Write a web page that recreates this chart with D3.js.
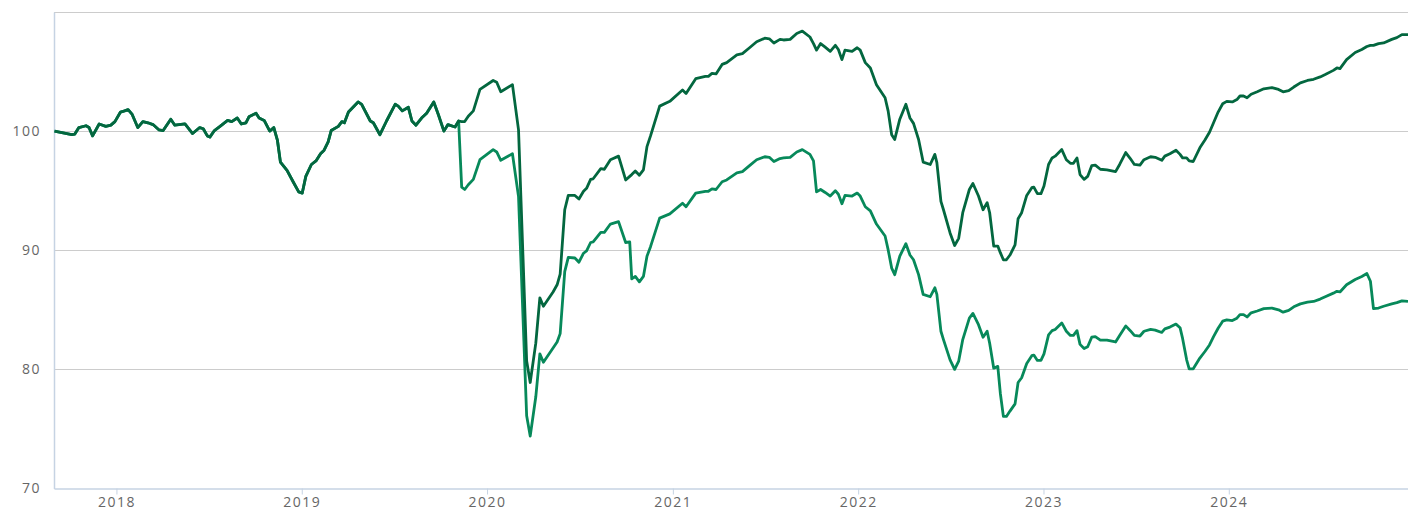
<!DOCTYPE html>
<html>
<head>
<meta charset="utf-8">
<script src="https://cdn.jsdelivr.net/npm/d3@7"></script>
<style>
    html, body { margin: 0; padding: 0; background: #fff; }
    svg { display: block; font-family: "Open Sans", sans-serif; }
</style>
</head>
<body>
<div id="chart"></div>
<script>
// Dates of the sampled points (weekly-ish, picked at the turns of the lines)
const dates = [
    // 2017
    "2017-09-01", "2017-10-05", "2017-10-11", "2017-10-19", "2017-11-02", "2017-11-08", "2017-11-15", "2017-11-28", "2017-12-11", "2017-12-21", "2017-12-29",
    // 2018
    "2018-01-09", "2018-01-17", "2018-01-24", "2018-02-01", "2018-02-12", "2018-02-22", "2018-03-04", "2018-03-14", "2018-03-26", "2018-04-03",
    "2018-04-18", "2018-04-26", "2018-05-16", "2018-05-31", "2018-06-14", "2018-06-21", "2018-06-29", "2018-07-04", "2018-07-13", "2018-07-24",
    "2018-08-08", "2018-08-16", "2018-08-27", "2018-09-04", "2018-09-13", "2018-09-19", "2018-10-03", "2018-10-09", "2018-10-19", "2018-10-30",
    "2018-11-07", "2018-11-14", "2018-11-20", "2018-12-03", "2018-12-15", "2018-12-26",
    // 2019
    "2019-01-02", "2019-01-09", "2019-01-20", "2019-01-29", "2019-02-07", "2019-02-14", "2019-02-22", "2019-02-28", "2019-03-14", "2019-03-21",
    "2019-03-26", "2019-04-03", "2019-04-22", "2019-04-29", "2019-05-16", "2019-05-22", "2019-06-04", "2019-06-17", "2019-07-04", "2019-07-10",
    "2019-07-18", "2019-07-30", "2019-08-06", "2019-08-14", "2019-08-25", "2019-09-04", "2019-09-18", "2019-09-27", "2019-10-08", "2019-10-16",
    "2019-10-30", "2019-11-06", "2019-11-12", "2019-11-18", "2019-11-25", "2019-12-05", "2019-12-18",
    // 2020
    "2020-01-13", "2020-01-20", "2020-01-28", "2020-02-20", "2020-03-03", "2020-03-19", "2020-03-26", "2020-04-06", "2020-04-14", "2020-04-21",
    "2020-05-10", "2020-05-18", "2020-05-24", "2020-06-02", "2020-06-09", "2020-06-22", "2020-06-30", "2020-07-09", "2020-07-15", "2020-07-23",
    "2020-07-28", "2020-08-12", "2020-08-19", "2020-08-31", "2020-09-16", "2020-09-30", "2020-10-08", "2020-10-12", "2020-10-19", "2020-10-27",
    "2020-11-04", "2020-11-11", "2020-11-18", "2020-12-06", "2020-12-26",
    // 2021
    "2021-01-20", "2021-01-27", "2021-02-15", "2021-03-06", "2021-03-12", "2021-03-19", "2021-03-27", "2021-04-08", "2021-04-17", "2021-05-07",
    "2021-05-18", "2021-06-01", "2021-06-15", "2021-07-01", "2021-07-10", "2021-07-19", "2021-07-31", "2021-08-07", "2021-08-20", "2021-09-02",
    "2021-09-13", "2021-09-28", "2021-10-05", "2021-10-11", "2021-10-19", "2021-10-28", "2021-11-07", "2021-11-17", "2021-11-23", "2021-11-30",
    "2021-12-06", "2021-12-20", "2021-12-30",
    // 2022
    "2022-01-05", "2022-01-15", "2022-01-25", "2022-02-06", "2022-02-23", "2022-03-01", "2022-03-08", "2022-03-14", "2022-03-24", "2022-04-05",
    "2022-04-13", "2022-04-20", "2022-04-30", "2022-05-09", "2022-05-23", "2022-06-01", "2022-06-05", "2022-06-13", "2022-06-18", "2022-07-01",
    "2022-07-10", "2022-07-18", "2022-07-26", "2022-08-08", "2022-08-15", "2022-08-26", "2022-09-04", "2022-09-12", "2022-09-17", "2022-09-25",
    "2022-10-03", "2022-10-08", "2022-10-14", "2022-10-20", "2022-10-27", "2022-11-06", "2022-11-12", "2022-11-19", "2022-11-29", "2022-12-09",
    "2022-12-13", "2022-12-20", "2022-12-27",
    // 2023
    "2023-01-02", "2023-01-11", "2023-01-18", "2023-01-24", "2023-02-06", "2023-02-15", "2023-02-23", "2023-03-01", "2023-03-08", "2023-03-14",
    "2023-03-22", "2023-03-29", "2023-04-06", "2023-04-13", "2023-04-23", "2023-05-06", "2023-05-23", "2023-05-31", "2023-06-12", "2023-06-21",
    "2023-06-29", "2023-07-10", "2023-07-18", "2023-07-31", "2023-08-09", "2023-08-22", "2023-08-28", "2023-09-07", "2023-09-19", "2023-09-27",
    "2023-10-02", "2023-10-10", "2023-10-15", "2023-10-23", "2023-11-05", "2023-11-15", "2023-11-24", "2023-12-02", "2023-12-11", "2023-12-20",
    "2023-12-28",
    // 2024
    "2024-01-08", "2024-01-17", "2024-01-23", "2024-01-30", "2024-02-06", "2024-02-14", "2024-02-26", "2024-03-10", "2024-03-26", "2024-04-08",
    "2024-04-17", "2024-04-28", "2024-05-08", "2024-05-21", "2024-06-04", "2024-06-16", "2024-06-29", "2024-07-09", "2024-07-25", "2024-08-01",
    "2024-08-07", "2024-08-20", "2024-09-06", "2024-09-19", "2024-09-29", "2024-10-06", "2024-10-12", "2024-10-22", "2024-11-01", "2024-11-17",
    "2024-11-27", "2024-12-07", "2024-12-19"
];

// Dark line (total return, rebased to 100)
const totalReturn = [
    // 2017
    100.0, 99.7, 99.75, 100.3, 100.45, 100.3, 99.6, 100.6, 100.4, 100.5, 100.8,
    // 2018
    101.6, 101.7, 101.8, 101.4, 100.3, 100.8, 100.7, 100.55, 100.1, 100.05,
    101.0, 100.5, 100.6, 99.8, 100.3, 100.2, 99.6, 99.5, 100.05, 100.4,
    100.9, 100.8, 101.1, 100.6, 100.7, 101.2, 101.5, 101.1, 100.9, 100.0,
    100.3, 99.25, 97.4, 96.7, 95.75, 94.9,
    // 2019
    94.8, 96.2, 97.2, 97.5, 98.1, 98.4, 99.1, 100.05, 100.4, 100.8,
    100.7, 101.6, 102.45, 102.25, 100.85, 100.7, 99.7, 100.85, 102.25, 102.1,
    101.7, 102.0, 100.85, 100.5, 101.1, 101.5, 102.45, 101.4, 100.0, 100.55,
    100.35, 100.85, 100.8, 100.8, 101.25, 101.7, 103.5,
    // 2020
    104.25, 104.1, 103.3, 103.9, 100.1, 80.7, 78.9, 82.2, 86.0, 85.3,
    86.5, 87.1, 88.0, 93.4, 94.6, 94.6, 94.3, 94.95, 95.2, 95.95,
    96.0, 96.85, 96.8, 97.6, 97.9, 95.9, 96.2, 96.35, 96.65, 96.3,
    96.75, 98.7, 99.6, 102.1, 102.5,
    // 2021
    103.45, 103.15, 104.4, 104.6, 104.6, 104.85, 104.8, 105.6, 105.75, 106.4,
    106.5, 107.0, 107.5, 107.8, 107.75, 107.4, 107.7, 107.65, 107.7, 108.2,
    108.4, 107.9, 107.35, 106.8, 107.35, 107.05, 106.7, 107.2, 106.85, 106.0,
    106.8, 106.7, 107.0,
    // 2022
    106.8, 105.75, 105.3, 103.9, 102.8, 101.7, 99.7, 99.3, 101.0, 102.25,
    101.1, 100.65, 99.3, 97.4, 97.2, 98.05, 97.35, 94.1, 93.4, 91.45,
    90.4, 91.0, 93.15, 95.1, 95.6, 94.55, 93.4, 94.0, 93.15, 90.35,
    90.35, 89.8, 89.2, 89.2, 89.6, 90.45, 92.65, 93.15, 94.6, 95.25,
    95.3, 94.75, 94.75,
    // 2023
    95.4, 97.2, 97.75, 97.9, 98.45, 97.6, 97.3, 97.3, 97.75, 96.35,
    95.95, 96.2, 97.1, 97.15, 96.8, 96.75, 96.6, 97.2, 98.2, 97.7,
    97.2, 97.15, 97.6, 97.85, 97.8, 97.55, 97.9, 98.1, 98.4, 98.05,
    97.75, 97.75, 97.5, 97.45, 98.6, 99.25, 99.9, 100.7, 101.6, 102.3,
    102.5,
    // 2024
    102.45, 102.65, 102.95, 102.95, 102.8, 103.1, 103.3, 103.55, 103.65, 103.5,
    103.3, 103.4, 103.7, 104.05, 104.25, 104.35, 104.55, 104.75, 105.1, 105.3,
    105.25, 106.0, 106.6, 106.85, 107.1, 107.2, 107.2, 107.35, 107.4, 107.7,
    107.85, 108.1, 108.1
];

// Light line (price only, drops at each yearly payout)
const priceReturn = [
    // 2017
    100.0, 99.7, 99.75, 100.3, 100.45, 100.3, 99.6, 100.6, 100.4, 100.5, 100.8,
    // 2018
    101.6, 101.7, 101.8, 101.4, 100.3, 100.8, 100.7, 100.55, 100.1, 100.05,
    101.0, 100.5, 100.6, 99.8, 100.3, 100.2, 99.6, 99.5, 100.05, 100.4,
    100.9, 100.8, 101.1, 100.6, 100.7, 101.2, 101.5, 101.1, 100.9, 100.0,
    100.3, 99.25, 97.4, 96.7, 95.75, 94.9,
    // 2019
    94.8, 96.2, 97.2, 97.5, 98.1, 98.4, 99.1, 100.05, 100.4, 100.8,
    100.7, 101.6, 102.45, 102.25, 100.85, 100.7, 99.7, 100.85, 102.25, 102.1,
    101.7, 102.0, 100.85, 100.5, 101.1, 101.5, 102.45, 101.4, 100.0, 100.55,
    100.35, 100.85, 95.3, 95.1, 95.5, 95.95, 97.6,
    // 2020
    98.45, 98.25, 97.55, 98.1, 94.5, 76.1, 74.4, 77.7, 81.3, 80.6,
    81.8, 82.3, 83.0, 88.2, 89.4, 89.35, 89.0, 89.75, 89.95, 90.65,
    90.7, 91.5, 91.5, 92.2, 92.4, 90.65, 90.7, 87.6, 87.8, 87.35,
    87.8, 89.5, 90.3, 92.7, 93.05,
    // 2021
    93.95, 93.65, 94.8, 94.95, 94.95, 95.15, 95.1, 95.75, 95.9, 96.5,
    96.6, 97.1, 97.6, 97.85, 97.8, 97.45, 97.7, 97.75, 97.8, 98.25,
    98.45, 98.05, 97.5, 94.9, 95.1, 94.85, 94.55, 95.0, 94.7, 93.9,
    94.6, 94.55, 94.8,
    // 2022
    94.55, 93.65, 93.3, 92.2, 91.2, 90.05, 88.5, 87.95, 89.5, 90.55,
    89.6, 89.2, 87.95, 86.3, 86.1, 86.85, 86.3, 83.2, 82.5, 80.8,
    80.0, 80.7, 82.5, 84.3, 84.7, 83.75, 82.7, 83.2, 82.2, 80.1,
    80.25, 78.0, 76.05, 76.05, 76.5, 77.1, 78.9, 79.3, 80.5, 81.15,
    81.2, 80.75, 80.75,
    // 2023
    81.3, 82.9, 83.25, 83.35, 83.9, 83.2, 82.85, 82.85, 83.25, 82.1,
    81.75, 81.9, 82.7, 82.75, 82.45, 82.45, 82.3, 82.85, 83.65, 83.25,
    82.85, 82.8, 83.2, 83.35, 83.3, 83.1, 83.4, 83.55, 83.8, 83.5,
    82.6, 80.8, 80.05, 80.05, 80.95, 81.5, 82.05, 82.75, 83.45, 84.05,
    84.15,
    // 2024
    84.1, 84.3, 84.6, 84.6, 84.4, 84.75, 84.9, 85.1, 85.15, 85.0,
    84.8, 84.95, 85.25, 85.5, 85.65, 85.7, 85.9, 86.1, 86.4, 86.55,
    86.5, 87.1, 87.55, 87.8, 88.05, 87.4, 85.1, 85.15, 85.3, 85.5,
    85.6, 85.75, 85.7
];

const yTickValues = [70, 80, 90, 100];
const gridValues = [80, 90, 100, 110];
const tickYears = [2018, 2019, 2020, 2021, 2022, 2023, 2024];
const domainStart = "2017-08-31";
const domainEnd = "2024-12-19";

// Chart size
const width = 1408;
const height = 510;
const plotLeft = 54;
const plotRight = 1408;
const plotTop = 12;
const plotBottom = 488.5;

const parseDate = d3.timeParse("%Y-%m-%d");

const svg = d3.select("#chart")
    .append("svg")
    .attr("width", width)
    .attr("height", height);

const x = d3.scaleTime()
    .domain([parseDate(domainStart), parseDate(domainEnd)])
    .range([plotLeft, plotRight]);

const y = d3.scaleLinear()
    .domain([70, 110])
    .range([plotBottom, plotTop]);

// Horizontal grid lines
svg.append("g")
    .selectAll("line")
    .data(gridValues)
    .enter()
    .append("line")
    .attr("x1", plotLeft)
    .attr("x2", plotRight)
    .attr("y1", d => Math.round(y(d)) + 0.5)
    .attr("y2", d => Math.round(y(d)) + 0.5)
    .attr("stroke", "#cccccc")
    .attr("stroke-width", 1);

// X axis
const xAxis = svg.append("g")
    .attr("transform", `translate(0,${Math.round(plotBottom) - 0.5})`)
    .call(d3.axisBottom(x)
        .tickValues(tickYears.map(yr => new Date(yr, 0, 1)))
        .tickFormat(d3.timeFormat("%Y"))
        .tickSize(6)
        .tickSizeOuter(0));
xAxis.select(".domain").attr("stroke", "#c6d3e3").attr("stroke-width", 1.5);
xAxis.selectAll(".tick line").attr("stroke", "#c6d3e3");
xAxis.selectAll(".tick text")
    .attr("y", 18)
    .attr("dy", 0)
    .attr("fill", "#666")
    .style("font-size", "14px")
    .style("letter-spacing", "1.5px")
    .style("font-family", "'Open Sans', sans-serif");

// Y axis
const yAxis = svg.append("g")
    .attr("transform", `translate(${plotLeft},0)`)
    .call(d3.axisLeft(y)
        .tickValues(yTickValues)
        .tickSize(0)
        .tickPadding(13)
        .tickSizeOuter(0));
yAxis.select(".domain").attr("stroke", "#c6d3e3").attr("stroke-width", 1.5);
yAxis.selectAll(".tick text")
    .attr("fill", "#666")
    .style("font-size", "14px")
    .style("letter-spacing", "1.5px")
    .style("font-family", "'Open Sans', sans-serif");

// Lines
const points = dates.map((d, i) => ({
    date: parseDate(d),
    total: totalReturn[i],
    price: priceReturn[i]
}));

const priceLine = d3.line()
    .x(d => x(d.date))
    .y(d => y(d.price));

const totalLine = d3.line()
    .x(d => x(d.date))
    .y(d => y(d.total));

svg.append("path")
    .datum(points)
    .attr("fill", "none")
    .attr("stroke", "#07895a")
    .attr("stroke-width", 2.8)
    .attr("stroke-linejoin", "round")
    .attr("d", priceLine);

svg.append("path")
    .datum(points)
    .attr("fill", "none")
    .attr("stroke", "#03673f")
    .attr("stroke-width", 2.8)
    .attr("stroke-linejoin", "round")
    .attr("d", totalLine);
</script>
</body>
</html>
